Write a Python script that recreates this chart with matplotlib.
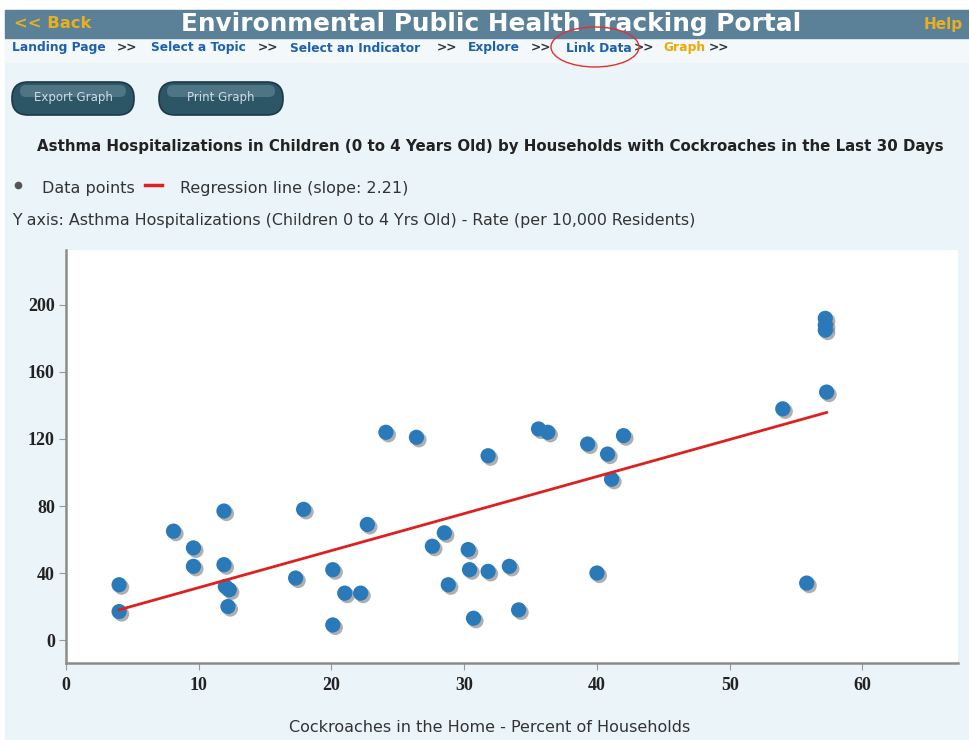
import matplotlib.pyplot as plt
import matplotlib.patches as mpatches
import matplotlib.transforms as mtransforms
import numpy as np

# data
pct_households = [4.0, 4.0, 8.1, 9.6, 9.6, 11.9, 11.9, 12.0, 12.3, 12.2,
                  17.3, 17.9, 20.1, 20.1, 21.0, 22.2, 22.7, 24.1, 26.4, 27.6,
                  28.5, 28.8, 30.3, 30.4, 30.7, 31.8, 31.8, 33.4, 34.1, 35.6,
                  36.3, 39.3, 40.0, 40.8, 41.1, 42.0, 54.0, 55.8, 57.3, 57.2,
                  57.2, 57.2]
asthma_rate = [33, 17, 65, 55, 44, 77, 45, 32, 30, 20,
               37, 78, 42, 9, 28, 28, 69, 124, 121, 56,
               64, 33, 54, 42, 13, 110, 41, 44, 18, 126,
               124, 117, 40, 111, 96, 122, 138, 34, 148, 192,
               188, 185]
slope = 2.21
intercept = 9.2
xticks = [0, 10, 20, 30, 40, 50, 60]
yticks = [0, 40, 80, 120, 160, 200]

title = "Asthma Hospitalizations in Children (0 to 4 Years Old) by Households with Cockroaches in the Last 30 Days"
breadcrumb = [("Landing Page", 12, "#1f5fb0"), (">>", 117, "#333333"),
              ("Select a Topic", 151, "#1f5fb0"), (">>", 258, "#333333"),
              ("Select an Indicator", 290, "#1f5fb0"), (">>", 437, "#333333"),
              ("Explore", 468, "#1f5fb0"), (">>", 531, "#333333"),
              ("Link Data", 566, "#1f5fb0"), (">>", 634, "#333333"),
              ("Graph", 663, "#f0a800"), (">>", 709, "#333333")]

W, H = 969, 740
fig = plt.figure(figsize=(W / 100, H / 100), dpi=100)
fig.patch.set_facecolor("white")

# page layer in pixel coordinates
bg = fig.add_axes([0, 0, 1, 1])
bg.set_xlim(0, W)
bg.set_ylim(H, 0)
bg.axis("off")

bg.add_patch(mpatches.Rectangle((5, 10), W - 5, H - 10, color="#ebf4f8", zorder=0))
bg.add_patch(mpatches.Rectangle((5, 38), W - 5, 24, color="#f3f9fb", zorder=0.5))
bg.add_patch(mpatches.Rectangle((5, 10), W - 5, 28, color="#5a8198", zorder=1))

bg.text(14, 24, "<< Back", color="#e8b020", fontsize=11.8, fontweight="bold",
        va="center", ha="left", zorder=2)
bg.text(491, 24, "Environmental Public Health Tracking Portal", color="white",
        fontsize=17.8, fontweight="bold", va="center", ha="center", zorder=2)
bg.text(963, 24, "Help", color="#e8b020", fontsize=11, fontweight="bold",
        va="center", ha="right", zorder=2)

for txt, xpos, col in breadcrumb:
    bg.text(xpos, 48, txt, color=col, fontsize=8.8, fontweight="bold",
            va="center", ha="left", zorder=2)
bg.add_patch(mpatches.Ellipse((595, 47), 88, 40, fill=False, edgecolor="#e03030",
                              lw=1.0, zorder=3))

# buttons
for label, x0, x1 in [("Export Graph", 12, 134), ("Print Graph", 159, 283)]:
    bg.add_patch(mpatches.FancyBboxPatch((x0, 82), x1 - x0, 33,
                                         boxstyle="round,pad=0,rounding_size=16",
                                         facecolor="#2c5566", edgecolor="#1c3a46",
                                         lw=1.2, zorder=2))
    bg.add_patch(mpatches.FancyBboxPatch((x0 + 8, 85), x1 - x0 - 16, 12,
                                         boxstyle="round,pad=0,rounding_size=6",
                                         facecolor="#6a909e", edgecolor="none",
                                         alpha=0.55, zorder=2.5))
    bg.text((x0 + x1) / 2, 97, label, color="#d0dde3", fontsize=8.5,
            va="center", ha="center", zorder=3)

bg.text(490, 147, title, fontsize=10.8, fontweight="bold", color="#222222",
        va="center", ha="center")
bg.plot([18], [185], marker="o", ms=4.5, color="#555555", ls="none")
bg.text(42, 189, "Data points", fontsize=11.5, color="#333333", va="center", ha="left")
bg.plot([145, 162], [185, 185], color="#e02020", lw=2.5)
bg.text(180, 189, "Regression line (slope: 2.21)", fontsize=11.5, color="#333333",
        va="center", ha="left")
bg.text(12, 220, "Y axis: Asthma Hospitalizations (Children 0 to 4 Yrs Old) - Rate (per 10,000 Residents)",
        fontsize=11.4, color="#333333", va="center", ha="left")
bg.text(490, 728, "Cockroaches in the Home - Percent of Households", fontsize=11.5,
        color="#333333", va="center", ha="center")

# chart
ax = fig.add_axes([66 / W, (H - 663) / H, (958 - 66) / W, (663 - 250) / H])
ax.set_facecolor("white")
ax.set_xlim(0, 67.2)
ax.set_ylim(-13.7, 232.8)

shadow = mtransforms.offset_copy(ax.transData, fig=fig, x=2.5, y=-2.5, units="dots")
ax.scatter(pct_households, asthma_rate, s=120, color="#7a7a7a", alpha=0.6,
           edgecolors="none", transform=shadow, zorder=2)
ax.scatter(pct_households, asthma_rate, s=120, color="#2a79b9",
           edgecolors="none", zorder=3)

xs = np.array([min(pct_households), max(pct_households)])
ax.plot(xs, intercept + slope * xs, color="#dd2020", lw=2.0, zorder=4)

for side in ["top", "right"]:
    ax.spines[side].set_visible(False)
for side in ["left", "bottom"]:
    ax.spines[side].set_color("#8c8c8c")
    ax.spines[side].set_linewidth(1.8)
ax.set_xticks(xticks)
ax.set_yticks(yticks)
ax.tick_params(length=5, width=0.8, color="#999999", pad=3, labelcolor="#222222")
ax.tick_params(axis="x", pad=5)
for lab in ax.get_xticklabels() + ax.get_yticklabels():
    lab.set_fontfamily("Liberation Serif")
    lab.set_fontweight("bold")
    lab.set_fontsize(13)

fig.savefig("out.png", dpi=100, facecolor=fig.get_facecolor())
